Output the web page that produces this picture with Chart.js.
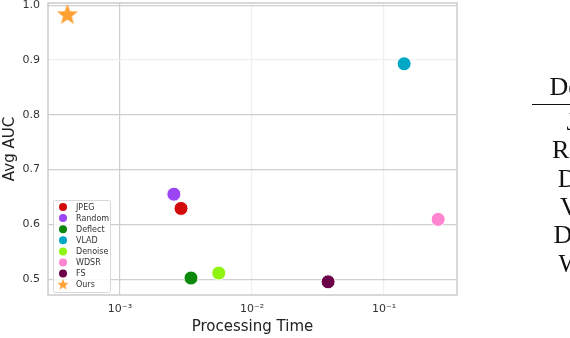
<!DOCTYPE html>
<html>
<head>
<meta charset="utf-8">
<script src="https://cdn.jsdelivr.net/npm/chart.js@4.4.0/dist/chart.umd.min.js"></script>
<style>
  html, body { margin: 0; padding: 0; background: #fff; overflow: hidden; }
  #wrap { position: relative; width: 570px; height: 338px; }
  #myChart { position: absolute; left: 0; top: 0; }
  .tbl { position: absolute; left: 532px; width: 128px; text-align: center;
         font-family: "Liberation Serif", "Times New Roman", serif; font-size: 26px;
         line-height: 28px; color: #111; white-space: nowrap; }
  .rule { position: absolute; left: 532px; top: 104px; width: 60px; height: 1px; background: #111; }
</style>
</head>
<body>
<div id="wrap">
  <canvas id="myChart" width="570" height="338"></canvas>
  <div class="rule"></div>
</div>
<script>
// chart values
const methods = ['JPEG', 'Random', 'Deflect', 'VLAD', 'Denoise', 'WDSR', 'FS', 'Ours'];
const times = [0.0029, 0.00256, 0.00345, 0.142, 0.0056, 0.257, 0.0377, 0.0004];
const aucs = [0.629, 0.655, 0.502, 0.893, 0.511, 0.609, 0.495, 0.982];
const colors = ['#d20a0a', '#9b45f5', '#0b870b', '#00a8c6', '#8ff510', '#ff85d0', '#6a0048', '#ffa033'];
const xTicks = [0.001, 0.01, 0.1];
const xTickLabels = ['10\u207B\u00B3', '10\u207B\u00B2', '10\u207B\u00B9'];
const yTicks = [0.5, 0.6, 0.7, 0.8, 0.9, 1.0];
// the table cut off on the right
const tableHeader = 'Defense';
const tableRows = ['JPEG', 'Random', 'Deflect', 'VLAD', 'Denoise', 'WDSR'];

const wrap = document.getElementById('wrap');
let head = document.createElement('div');
head.className = 'tbl';
head.style.top = '73px';
head.style.left = '528px';
head.textContent = tableHeader;
wrap.appendChild(head);
tableRows.forEach(function(r, i){
  let d = document.createElement('div');
  d.className = 'tbl';
  d.style.top = (108 + i * 28.3) + 'px';
  d.textContent = r;
  wrap.appendChild(d);
});

// filled star used for "Ours"
function makeStar(r, color) {
  const c = document.createElement('canvas');
  c.width = r * 2 + 2; c.height = r * 2 + 2;
  const g = c.getContext('2d');
  g.fillStyle = color;
  g.beginPath();
  for (let i = 0; i < 10; i++) {
    const rad = i % 2 === 0 ? r : r * 0.42;
    const a = -Math.PI / 2 + i * Math.PI / 5;
    g.lineTo(r + 1 + rad * Math.cos(a), r + 1 + rad * Math.sin(a));
  }
  g.closePath();
  g.fill();
  return c;
}
const bigStar = makeStar(11, colors[7]);
const smallStar = makeStar(6, colors[7]);

const datasets = methods.map(function(m, i){
  const isStar = m === 'Ours';
  return {
    label: m,
    data: [{x: times[i], y: aucs[i]}],
    backgroundColor: colors[i],
    borderColor: '#ffffff',
    borderWidth: 1,
    pointRadius: isStar ? 11 : 7,
    pointStyle: isStar ? bigStar : 'circle',
  };
});

const frameAndLegend = {
  id: 'frameAndLegend',
  afterDraw(chart) {
    const c = chart.ctx;
    const a = chart.chartArea;
    c.save();
    c.strokeStyle = '#cccccc';
    c.lineWidth = 1.5;
    c.strokeRect(a.left, a.top, a.right - a.left, a.bottom - a.top);

    // legend box, lower left inside the plot
    const bx = 53, by = 200, bw = 57, bh = 92;
    c.fillStyle = 'rgba(255,255,255,0.85)';
    c.strokeStyle = '#d8d8d8';
    c.lineWidth = 1;
    c.beginPath();
    c.roundRect(bx + 0.5, by + 0.5, bw, bh, 2);
    c.fill();
    c.stroke();
    c.font = '8px "DejaVu Sans"';
    c.textBaseline = 'middle';
    chart.data.datasets.forEach(function(ds, i){
      const y = 207 + i * 11.1;
      if (ds.label === 'Ours') {
        c.drawImage(smallStar, 63 - 7, y - 7);
      } else {
        c.fillStyle = ds.backgroundColor;
        c.beginPath();
        c.arc(63, y, 4, 0, Math.PI * 2);
        c.fill();
      }
      c.fillStyle = '#333333';
      c.fillText(ds.label, 76, y + 0.5);
    });
    c.restore();
  }
};

const ctx = document.getElementById('myChart');

new Chart(ctx, {
  type: 'scatter',
  data: { datasets: datasets },
  options: {
    responsive: false,
    animation: false,
    devicePixelRatio: 1,
    layout: { autoPadding: false, padding: { top: 3, right: 113, left: 0, bottom: 0 } },
    plugins: { legend: { display: false }, tooltip: { enabled: false } },
    scales: {
      x: {
        type: 'logarithmic',
        min: 0.000285,
        max: 0.357,
        afterBuildTicks: function(s){ s.ticks = xTicks.map(function(v){ return {value: v}; }); },
        afterFit: function(s){ s.height = 43; s.paddingLeft = 0; s.paddingRight = 0; },
        grid: {
          drawTicks: false,
          color: function(c){ return c.tick && c.tick.value === 0.001 ? '#cfcfcf' : '#efefef'; },
          lineWidth: 1.2,
        },
        border: { display: false },
        ticks: {
          padding: 8,
          color: '#333',
          font: { family: 'DejaVu Sans', size: 11 },
          maxRotation: 0,
          callback: function(v){ return xTickLabels[xTicks.indexOf(v)]; },
        },
        title: {
          display: true,
          text: 'Processing Time',
          color: '#222',
          font: { family: 'DejaVu Sans', size: 15 },
          padding: { top: 0, bottom: 2 },
        },
      },
      y: {
        min: 0.471,
        max: 1.004,
        afterBuildTicks: function(s){ s.ticks = yTicks.map(function(v){ return {value: v}; }); },
        afterFit: function(s){ s.width = 48; s.paddingTop = 0; s.paddingBottom = 0; },
        grid: {
          drawTicks: false,
          color: function(c){ return c.tick && c.tick.value === 0.9 ? '#efefef' : '#cfcfcf'; },
          lineWidth: 1.2,
        },
        border: { display: false },
        ticks: {
          padding: 8,
          color: '#333',
          font: { family: 'DejaVu Sans', size: 11 },
          callback: function(v){ return v.toFixed(1); },
        },
        title: {
          display: true,
          text: 'Avg AUC',
          color: '#222',
          font: { family: 'DejaVu Sans', size: 15 },
          padding: { top: 1, bottom: 0 },
        },
      },
    },
  },
  plugins: [frameAndLegend],
});
</script>
</body>
</html>
